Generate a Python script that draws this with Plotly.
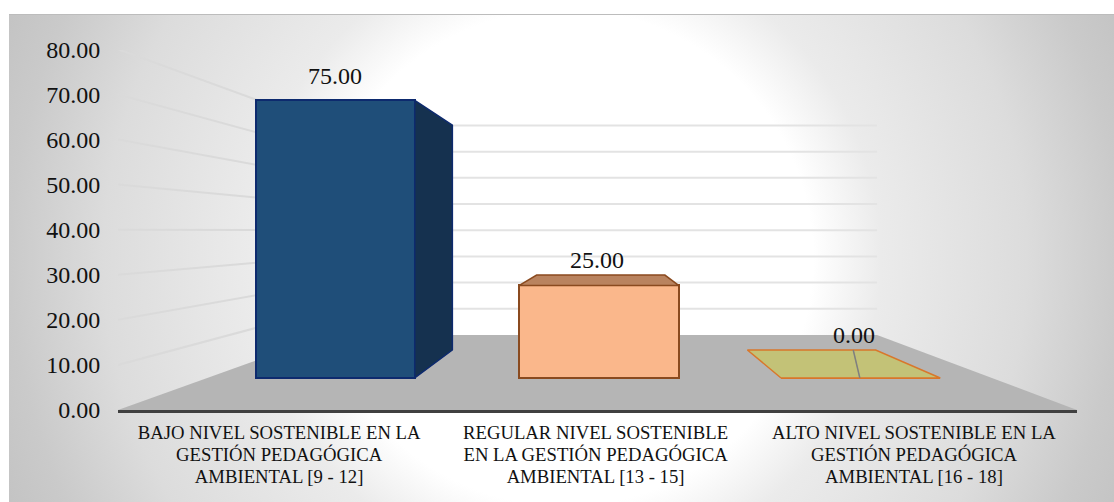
import urllib.parse
import plotly.graph_objects as go

categories = [
    "BAJO NIVEL SOSTENIBLE EN LA<br>GESTIÓN PEDAGÓGICA<br>AMBIENTAL [9 - 12]",
    "REGULAR NIVEL SOSTENIBLE<br>EN LA GESTIÓN PEDAGÓGICA<br>AMBIENTAL [13 - 15]",
    "ALTO NIVEL SOSTENIBLE EN LA<br>GESTIÓN PEDAGÓGICA<br>AMBIENTAL [16 - 18]",
]
values = [75.0, 25.0, 0.0]
value_ticks = [0, 10, 20, 30, 40, 50, 60, 70, 80]
bar_centres = [0.163, 0.4994, 0.833]
label_centres = [0.168, 0.498, 0.830]

face_colors = ["#1F4E79", "#FAB78B", "#C3C277"]
side_colors = ["#15314F", "#B9835F", "#C3C277"]
edge_colors = ["#0D2A6E", "#8A4A1F", "#D9772B"]

# Perspective of the 3D chart: depth 0 = front of floor, 1 = back wall
FLOOR_RISE = 16.67      # floor height of the back wall, in front-plane value units
Y_FRONT = 1.002
Y_SHRINK = 0.42
X_INSET = 0.218
X_SHRINK = 0.4265
BAR_WIDTH = 0.203
BAR_D0, BAR_D1 = 0.427, 0.80
SERIF = "Liberation Serif"
W, H = 1114, 502
L, R, T, B = 118, 1077, 50, 410


def px(f, d):
    return d * X_INSET + f * (1 - X_SHRINK * d)


def py(v, d):
    return FLOOR_RISE * d + v * (Y_FRONT - Y_SHRINK * d)


svg = (
    f'<svg xmlns="http://www.w3.org/2000/svg" width="{W}" height="{H}" viewBox="0 0 {W} {H}">'
    '<defs><radialGradient id="g" gradientUnits="userSpaceOnUse" cx="565" cy="258" r="620">'
    '<stop offset="0.40" stop-color="#ffffff"/><stop offset="0.51" stop-color="#ebebeb"/>'
    '<stop offset="0.745" stop-color="#dcdcdc"/><stop offset="0.895" stop-color="#cacaca"/>'
    '<stop offset="1" stop-color="#c2c2c2"/>'
    '</radialGradient></defs>'
    '<rect x="9" y="14" width="1105" height="488" fill="url(#g)"/>'
    '<rect x="9" y="14" width="1105" height="1" fill="#bcbcbc"/></svg>'
)
bg = "data:image/svg+xml;charset=utf-8," + urllib.parse.quote(svg)

shapes = [dict(
    type="path", layer="below", xref="x", yref="y", line_width=0, fillcolor="#B5B5B5",
    path=f"M {px(0,0)} {py(0,0)} L {px(0,1)} {py(0,1)} L {px(1,1)} {py(0,1)} L {px(1,0)} {py(0,0)} Z",
)]
for v in value_ticks[1:]:
    shapes.append(dict(
        type="line", layer="below", xref="x", yref="y",
        line=dict(color="#DADADA", width=2),
        x0=px(0, 0), y0=py(v, 0), x1=px(0, 1), y1=py(v, 1),
    ))
    shapes.append(dict(
        type="line", layer="below", xref="x", yref="y",
        line=dict(color="#E3E3E3", width=2),
        x0=px(0, 1), y0=py(v, 1), x1=px(1, 1), y1=py(v, 1),
    ))

fig = go.Figure()

fig.add_trace(go.Bar(
    x=[px(f, BAR_D0) for f in bar_centres],
    width=[BAR_WIDTH * (1 - X_SHRINK * BAR_D0)] * len(values),
    base=[py(0, BAR_D0)] * len(values),
    y=[py(v, BAR_D0) - py(0, BAR_D0) for v in values],
    marker=dict(color=face_colors, line=dict(color=edge_colors, width=2)),
    hoverinfo="skip", showlegend=False,
))

for f, v, side, edge in zip(bar_centres, values, side_colors, edge_colors):
    fl, fr = f - BAR_WIDTH / 2, f + BAR_WIDTH / 2
    if px(fr, BAR_D1) > px(fr, BAR_D0):
        fig.add_trace(go.Scatter(
            x=[px(fr, BAR_D0), px(fr, BAR_D1), px(fr, BAR_D1), px(fr, BAR_D0), px(fr, BAR_D0)],
            y=[py(v, BAR_D0), py(v, BAR_D1), py(0, BAR_D1), py(0, BAR_D0), py(v, BAR_D0)],
            mode="lines", fill="toself", fillcolor=side, line=dict(color=edge, width=1.5),
            hoverinfo="skip", showlegend=False,
        ))
    if py(v, BAR_D1) > py(v, BAR_D0):
        fig.add_trace(go.Scatter(
            x=[px(fl, BAR_D0), px(fl, BAR_D1), px(fr, BAR_D1), px(fr, BAR_D0), px(fl, BAR_D0)],
            y=[py(v, BAR_D0), py(v, BAR_D1), py(v, BAR_D1), py(v, BAR_D0), py(v, BAR_D0)],
            mode="lines", fill="toself", fillcolor=side, line=dict(color=edge, width=1.5),
            hoverinfo="skip", showlegend=False,
        ))

# leader line of the zero label
fig.add_trace(go.Scatter(
    x=[px(0.832, BAR_D0), px(0.899, BAR_D1)],
    y=[py(0, BAR_D0), py(0, BAR_D1)],
    mode="lines", line=dict(color="#7F7F7F", width=1.5),
    hoverinfo="skip", showlegend=False,
))

label_shift = [(0, 24), (-2, 25), (-7, 43)]
annotations = [
    dict(x=px(f, BAR_D0), y=py(v, BAR_D0), xref="x", yref="y", text=f"{v:.2f}", showarrow=False,
         xanchor="center", yanchor="middle", xshift=sx, yshift=sy,
         font=dict(family=SERIF, size=24, color="#111111"))
    for f, v, (sx, sy) in zip(bar_centres, values, label_shift)
]

tick_text = [
    "<br>".join(f'<span style="font-size:18.7px">{line}</span>' for line in c.split("<br>"))
    for c in categories
]

fig.update_layout(
    width=W, height=H, autosize=False,
    margin=dict(l=L, r=W - R, t=T, b=H - B, autoexpand=False),
    paper_bgcolor="white", plot_bgcolor="rgba(0,0,0,0)",
    bargap=0, barmode="overlay", showlegend=False,
    shapes=shapes, annotations=annotations,
    images=[dict(source=bg, xref="paper", yref="paper", layer="below", sizing="stretch",
                 x=-L / (R - L), y=B / (B - T),
                 sizex=W / (R - L), sizey=H / (B - T),
                 xanchor="left", yanchor="top")],
    xaxis=dict(range=[0, 1], tickmode="array", tickvals=label_centres, ticktext=tick_text,
               showgrid=False, zeroline=False, showline=True, linecolor="#404040", linewidth=3,
               ticks="outside", ticklen=6, tickcolor="rgba(0,0,0,0)",
               tickfont=dict(family=SERIF, size=16.9, color="#111111")),
    yaxis=dict(range=[0, 80], tickmode="array", tickvals=value_ticks,
               ticktext=[f"{v:.2f}" for v in value_ticks],
               showgrid=False, zeroline=False, showline=False,
               ticks="outside", ticklen=12, tickcolor="rgba(0,0,0,0)",
               tickfont=dict(family=SERIF, size=24, color="#111111")),
)

fig.write_html("out.html", config={"displayModeBar": False},
               post_script="document.body.style.margin='0';")
